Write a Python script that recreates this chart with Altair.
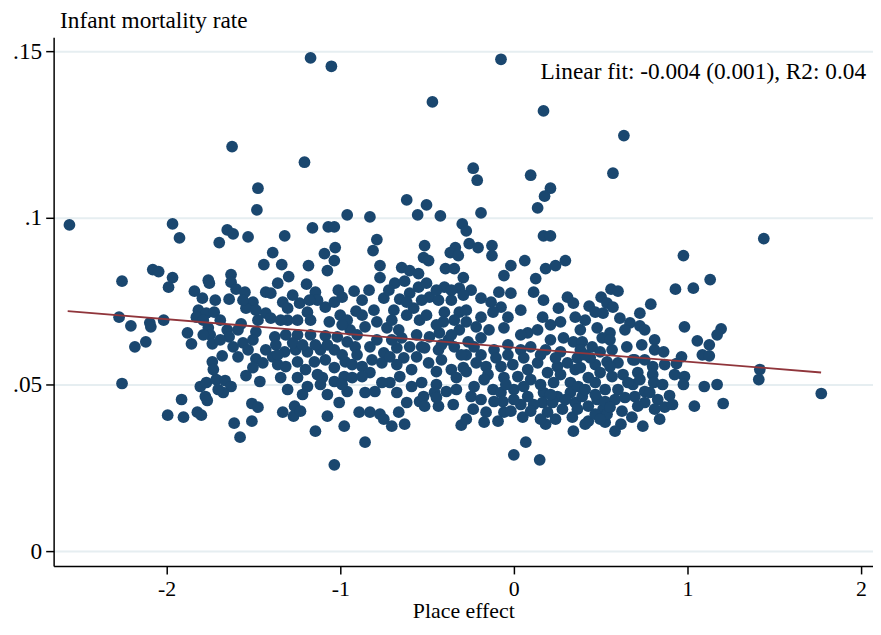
import altair as alt
import pandas as pd

# place effect (x) and infant mortality rate (y)
place_effect = [
    -1.171, -1.051, -0.074, -0.469, 0.171, 0.634, -1.623, -1.206, -0.234, -0.211,
    0.097, 0.571, -1.474, 0.211, 0.177, -1.480, -0.617, -0.503, 0.137, -0.960,
    -0.829, -0.554, -0.423, -0.189, -2.560, -1.966, -1.926, -1.651, -1.617, -1.697,
    -1.531, -1.320, -1.160, -1.069, -1.034, -1.029, -0.789, -0.811, -0.297, -0.274,
    0.171, 0.211, -0.257, -0.206, -0.126, -0.514, 1.440, 0.977, -1.389, -1.091,
    -0.337, -0.366, -2.257, -2.080, -2.046, -1.966, -1.989, -2.274, -2.206, -2.097,
    -2.091, -2.017, -2.183, -2.120, -1.880, -1.857, -2.257, -1.914, -1.994, -1.903,
    -1.823, -1.800, -1.840, -1.794, -1.760, -1.754, -1.720, -1.817, -1.771, -1.726,
    -1.829, -1.789, -1.760, -1.749, -1.737, -1.737, -1.680, -1.629, -1.629, -1.600,
    -1.549, -1.640, -1.503, -1.543, -1.440, -1.429, -1.429, -1.571, -1.651, -1.640,
    -1.589, -1.486, -1.617, -1.560, -1.503, -1.589, -1.486, -1.446, -1.429, -1.543,
    -1.463, -1.806, -1.771, -1.714, -1.663, -1.629, -1.777, -1.766, -1.674, -1.509,
    -1.474, -1.509, -1.611, -1.577, -1.034, -1.337, -1.183, -1.074, -0.771, -0.771,
    -0.646, -0.600, -0.549, -0.520, -1.360, -1.297, -1.194, -1.143, -1.011, -0.920,
    -0.686, -0.629, -0.549, -1.400, -1.331, -1.303, -1.234, -1.189, -1.171, -1.303,
    -1.400, -1.086, -1.034, -1.000, -1.063, -0.909, -0.806, -0.749, -0.657, -0.691,
    -0.600, -0.577, -0.543, -0.789, -0.857, -0.731, -0.663, -0.943, -1.377, -1.314,
    -1.246, -1.171, -1.086, -1.017, -0.960, -0.914, -0.829, -0.749, -0.674, -0.600,
    -0.531, -1.320, -1.257, -1.189, -1.114, -1.034, -1.389, -1.360, -1.314, -1.200,
    -1.149, -1.086, -1.034, -0.971, -0.931, -0.874, -0.829, -0.760, -0.714, -0.634,
    -0.560, -1.343, -1.189, -1.103, -1.114, -1.034, -0.977, -0.931, -0.874, -0.714,
    -0.657, -0.589, -0.531, -0.960, -1.006, -0.857, -0.800, -0.674, -0.617, -0.543,
    -1.331, -1.263, -1.269, -1.229, -1.074, -0.891, -0.829, -0.771, -0.749, -0.703,
    -0.663, -0.629, -0.977, -1.143, -0.857, -1.034, -0.491, -0.320, -0.126, -0.394,
    -0.343, -0.291, -0.017, 0.063, -0.057, 0.126, 0.183, 0.240, 0.297, -0.503,
    -0.400, -0.314, -0.246, -0.086, -0.017, 0.114, 0.171, 0.309, 0.343, -0.486,
    -0.434, -0.360, -0.291, -0.189, -0.131, -0.074, -0.120, -0.189, -0.503, -0.400,
    -0.314, -0.406, -0.343, -0.274, -0.034, 0.040, 0.166, 0.257, 0.354, -0.057,
    0.080, 0.137, 0.211, 0.269, -0.486, -0.429, -0.314, -0.217, -0.143, -0.189,
    -0.377, -0.263, 0.040, -0.034, 0.040, 0.097, 0.211, 0.286, 0.343, -0.514,
    -0.434, -0.343, -0.229, -0.114, 0.183, 0.269, -0.491, -0.417, -0.360, -0.291,
    -0.217, -0.160, -0.149, -0.074, -0.006, 0.023, 0.080, 0.137, 0.194, 0.251,
    0.309, 0.354, -0.057, 0.097, 0.229, 0.326, -0.446, -0.229, -0.520, -0.457,
    -0.331, -0.246, -0.120, -0.074, 0.000, 0.080, 0.171, 0.251, 0.326, 0.354,
    -0.514, -0.434, -0.349, -0.234, -0.160, -0.063, -0.057, 0.040, 0.166, 0.223,
    0.280, 0.194, 0.337, -0.091, 0.051, 0.183, 0.343, -0.303, 0.069, 0.000,
    0.149, 1.131, 0.931, 1.034, 0.560, 0.600, 0.503, 0.434, 0.537, 0.571,
    0.514, 0.789, 0.726, 0.669, 0.726, 0.983, 1.194, 1.171, 0.383, 0.480,
    0.554, 0.509, 0.394, 0.451, 0.566, 0.651, 0.737, 0.811, 0.863, 1.057,
    1.126, 1.086, 1.126, 0.966, 0.937, 0.366, 0.469, 0.600, 0.686, 0.754,
    0.800, 0.383, 0.429, 0.566, 0.629, 0.714, 0.800, 0.806, 0.983, 0.977,
    1.097, 1.171, 0.371, 0.469, 0.526, 0.600, 0.686, 0.754, 0.897, 0.829,
    0.394, 0.480, 0.583, 0.697, 0.754, 0.366, 0.429, 0.514, 0.623, 0.714,
    0.811, 0.869, 1.040, 1.206, 0.429, 0.526, 0.617, 0.680, 0.743,
    1.417, 1.411, 1.771,
    # dense core, centre
    -0.103, -0.034, 0.057, 0.154, 0.240, 0.383, 0.440, 0.497, 0.537, -0.189,
    -0.274, -0.171, -0.046, 0.057, 0.154, 0.269, 0.411, 0.469, 0.526, -0.189,
    -0.114, 0.000, 0.114, 0.211, 0.297, 0.469, 0.537, -0.171, -0.274, -0.017,
    0.097, 0.411, 0.240, 0.154,
    # dense core, left of centre
    -0.989, -0.874, -0.834, -0.720, -0.617, -0.531, -0.446, -0.360, -0.960, -0.874,
    -0.703, -0.617, -0.446, -0.360, -0.274, -0.989, -0.903, -0.817, -0.674, -0.589,
    -0.446, -0.331, -0.274, -0.703, -0.646, -0.560, -0.903, -0.789, -1.074, -0.417,
    -0.303, -0.760, -0.446, -0.389,
    # dense core, right
    0.411, 0.497, 0.554, 0.657, 0.726, 0.783, 0.857, 0.640, 0.554, 0.914,
    0.697, 0.811, 0.640, 0.554, 0.411, 0.469, 0.611, 0.754, 0.869, 0.926,
    0.497, 0.583, 0.840,
    # left clusters
    -1.371, -1.274, -1.217, -1.360, -1.246, -1.143, -1.131, -1.246, -1.303, -1.217,
    -1.074, -0.989, -1.131, -1.246, -1.274, -1.177, -1.343, -0.989,
    -1.691, -1.691, -1.531, -1.474, -1.789, -1.560, -1.486, -1.731, -1.503, -1.703,
]
infant_mortality = [
    0.1480, 0.1455, 0.1476, 0.1348, 0.1321, 0.1247, 0.1214, 0.1167, 0.1149, 0.1113,
    0.1128, 0.1134, 0.1089, 0.1089, 0.1065, 0.1024, 0.1054, 0.1039, 0.1030, 0.1009,
    0.1003, 0.1009, 0.1006, 0.1015, 0.0979, 0.0982, 0.0940, 0.0964, 0.0952, 0.0926,
    0.0943, 0.0946, 0.0970, 0.0973, 0.0973, 0.0911, 0.0935, 0.0902, 0.0982, 0.0961,
    0.0946, 0.0946, 0.0923, 0.0911, 0.0917, 0.0917, 0.0938, 0.0887, 0.0896, 0.0893,
    0.0911, 0.0896, 0.0810, 0.0845, 0.0839, 0.0821, 0.0792, 0.0702, 0.0676, 0.0685,
    0.0673, 0.0693, 0.0613, 0.0628, 0.0655, 0.0622, 0.0503, 0.0455, 0.0408, 0.0402,
    0.0417, 0.0408, 0.0780, 0.0759, 0.0813, 0.0804, 0.0753, 0.0723, 0.0714, 0.0717,
    0.0702, 0.0693, 0.0670, 0.0649, 0.0622, 0.0568, 0.0586, 0.0830, 0.0807, 0.0786,
    0.0777, 0.0756, 0.0747, 0.0729, 0.0860, 0.0777, 0.0714, 0.0682, 0.0664, 0.0643,
    0.0664, 0.0658, 0.0613, 0.0625, 0.0634, 0.0583, 0.0577, 0.0565, 0.0604, 0.0527,
    0.0509, 0.0494, 0.0506, 0.0515, 0.0512, 0.0494, 0.0464, 0.0452, 0.0476, 0.0443,
    0.0432, 0.0390, 0.0384, 0.0342, 0.0872, 0.0860, 0.0857, 0.0842, 0.0857, 0.0821,
    0.0851, 0.0842, 0.0833, 0.0881, 0.0804, 0.0824, 0.0801, 0.0777, 0.0783, 0.0780,
    0.0804, 0.0810, 0.0792, 0.0774, 0.0747, 0.0729, 0.0744, 0.0717, 0.0693, 0.0693,
    0.0699, 0.0732, 0.0747, 0.0708, 0.0688, 0.0720, 0.0723, 0.0759, 0.0756, 0.0723,
    0.0774, 0.0729, 0.0693, 0.0688, 0.0673, 0.0670, 0.0664, 0.0664, 0.0643, 0.0649,
    0.0649, 0.0649, 0.0646, 0.0643, 0.0628, 0.0613, 0.0613, 0.0595, 0.0610, 0.0613,
    0.0613, 0.0598, 0.0604, 0.0598, 0.0604, 0.0604, 0.0583, 0.0560, 0.0554, 0.0545,
    0.0568, 0.0574, 0.0551, 0.0568, 0.0560, 0.0554, 0.0536, 0.0565, 0.0583, 0.0580,
    0.0583, 0.0521, 0.0494, 0.0521, 0.0500, 0.0509, 0.0524, 0.0521, 0.0524, 0.0506,
    0.0524, 0.0494, 0.0506, 0.0479, 0.0446, 0.0476, 0.0479, 0.0476, 0.0446, 0.0449,
    0.0417, 0.0435, 0.0405, 0.0420, 0.0405, 0.0417, 0.0417, 0.0411, 0.0396, 0.0375,
    0.0417, 0.0381, 0.0375, 0.0360, 0.0327, 0.0259, 0.0872, 0.0887, 0.0887, 0.0848,
    0.0848, 0.0821, 0.0857, 0.0872, 0.0827, 0.0818, 0.0848, 0.0857, 0.0872, 0.0804,
    0.0792, 0.0789, 0.0783, 0.0777, 0.0774, 0.0777, 0.0753, 0.0762, 0.0744, 0.0762,
    0.0753, 0.0753, 0.0768, 0.0759, 0.0747, 0.0732, 0.0717, 0.0702, 0.0708, 0.0717,
    0.0717, 0.0688, 0.0693, 0.0688, 0.0702, 0.0723, 0.0702, 0.0729, 0.0702, 0.0670,
    0.0655, 0.0664, 0.0679, 0.0688, 0.0643, 0.0655, 0.0664, 0.0673, 0.0664, 0.0640,
    0.0634, 0.0628, 0.0649, 0.0619, 0.0604, 0.0613, 0.0634, 0.0640, 0.0628, 0.0610,
    0.0604, 0.0613, 0.0613, 0.0604, 0.0604, 0.0598, 0.0565, 0.0574, 0.0545, 0.0551,
    0.0565, 0.0554, 0.0530, 0.0554, 0.0560, 0.0524, 0.0545, 0.0565, 0.0536, 0.0554,
    0.0565, 0.0545, 0.0521, 0.0515, 0.0506, 0.0506, 0.0500, 0.0494, 0.0464, 0.0476,
    0.0485, 0.0464, 0.0485, 0.0476, 0.0485, 0.0464, 0.0476, 0.0464, 0.0476, 0.0446,
    0.0435, 0.0435, 0.0440, 0.0426, 0.0417, 0.0449, 0.0417, 0.0440, 0.0446, 0.0446,
    0.0426, 0.0417, 0.0402, 0.0390, 0.0402, 0.0381, 0.0360, 0.0378, 0.0327, 0.0289,
    0.0274, 0.0815, 0.0786, 0.0789, 0.0786, 0.0780, 0.0762, 0.0735, 0.0744, 0.0732,
    0.0714, 0.0741, 0.0714, 0.0685, 0.0676, 0.0673, 0.0667, 0.0649, 0.0664, 0.0670,
    0.0655, 0.0640, 0.0628, 0.0613, 0.0604, 0.0613, 0.0619, 0.0604, 0.0598, 0.0631,
    0.0619, 0.0589, 0.0586, 0.0583, 0.0563, 0.0580, 0.0560, 0.0565, 0.0574, 0.0574,
    0.0554, 0.0551, 0.0521, 0.0524, 0.0530, 0.0536, 0.0530, 0.0506, 0.0524, 0.0500,
    0.0494, 0.0500, 0.0494, 0.0506, 0.0485, 0.0485, 0.0500, 0.0479, 0.0467, 0.0455,
    0.0464, 0.0455, 0.0455, 0.0464, 0.0446, 0.0426, 0.0435, 0.0426, 0.0420, 0.0435,
    0.0426, 0.0432, 0.0435, 0.0443, 0.0390, 0.0387, 0.0381, 0.0402, 0.0375,
    0.0545, 0.0515, 0.0473,
    # dense core, centre
    0.0580, 0.0589, 0.0580, 0.0589, 0.0580, 0.0604, 0.0580, 0.0598, 0.0568, 0.0589,
    0.0589, 0.0515, 0.0500, 0.0494, 0.0500, 0.0530, 0.0485, 0.0470, 0.0449, 0.0455,
    0.0449, 0.0455, 0.0440, 0.0470, 0.0455, 0.0411, 0.0411, 0.0387, 0.0396, 0.0420,
    0.0420, 0.0381, 0.0396, 0.0396,
    # dense core, left of centre
    0.0762, 0.0753, 0.0783, 0.0783, 0.0747, 0.0753, 0.0783, 0.0783, 0.0693, 0.0708,
    0.0693, 0.0708, 0.0679, 0.0649, 0.0723, 0.0589, 0.0589, 0.0574, 0.0560, 0.0545,
    0.0539, 0.0521, 0.0539, 0.0634, 0.0640, 0.0649, 0.0649, 0.0634, 0.0619, 0.0619,
    0.0589, 0.0506, 0.0461, 0.0479,
    # dense core, right
    0.0589, 0.0536, 0.0554, 0.0506, 0.0515, 0.0476, 0.0500, 0.0461, 0.0432, 0.0440,
    0.0574, 0.0634, 0.0664, 0.0634, 0.0693, 0.0717, 0.0699, 0.0664, 0.0560, 0.0530,
    0.0396, 0.0360, 0.0396,
    # left clusters
    0.0619, 0.0625, 0.0619, 0.0589, 0.0568, 0.0619, 0.0530, 0.0521, 0.0485, 0.0470,
    0.0470, 0.0500, 0.0753, 0.0693, 0.0768, 0.0753, 0.0693, 0.0679,
    0.0693, 0.0634, 0.0604, 0.0693, 0.0649, 0.0753, 0.0723, 0.0545, 0.0551, 0.0485,
]

# fitted line end points
fit_x = [-2.57, 1.77]
fit_y = [0.0720, 0.0536]

x_ticks = [-2, -1, 0, 1, 2]
y_ticks = [0, 0.05, 0.1, 0.15]
fit_label = 'Linear fit: -0.004 (0.001), R2: 0.04'

points = pd.DataFrame({'place_effect': place_effect, 'imr': infant_mortality})
fit = pd.DataFrame({'place_effect': fit_x, 'imr': fit_y})

x_scale = alt.Scale(domain=[-2.651, 2.069], nice=False, zero=False)
y_scale = alt.Scale(domain=[-0.00446, 0.1542], nice=False, zero=False)

scatter = alt.Chart(points).mark_circle(size=140, color='#1a476f', opacity=1).encode(
    x=alt.X('place_effect:Q', scale=x_scale, title='Place effect',
            axis=alt.Axis(values=x_ticks, grid=False, labelExpr='toString(datum.value)',
                          labelFontSize=22, titleFontSize=22,
                          labelPadding=5, titlePadding=1)),
    y=alt.Y('imr:Q', scale=y_scale, title='Infant mortality rate',
            axis=alt.Axis(values=y_ticks, grid=True, gridColor='#e6eef1', gridWidth=2,
                          labelExpr="replace(format(datum.value, '~g'), '0.', '.')",
                          labelPadding=4, titleAngle=0, titleAlign='left',
                          titleBaseline='middle', titleX=6, titleY=-17))
)

line = alt.Chart(fit).mark_line(color='#90353b', strokeWidth=1.8).encode(
    x=alt.X('place_effect:Q', scale=x_scale),
    y=alt.Y('imr:Q', scale=y_scale)
)

note = alt.Chart(pd.DataFrame({'label': [fit_label]})).mark_text(
    align='right', baseline='middle', fontSize=23.5, font='Liberation Serif', color='black'
).encode(
    x=alt.value(819),
    y=alt.value(35),
    text='label:N'
)

chart = (scatter + line + note).properties(
    width=826,
    height=533,
    autosize=alt.AutoSizeParams(type='none'),
    padding={'left': 46, 'top': 27, 'right': 0, 'bottom': 59},
    background='white'
).configure_view(
    strokeWidth=0
).configure_axis(
    labelFont='Liberation Serif',
    titleFont='Liberation Serif',
    labelFontSize=23.5,
    titleFontSize=23.5,
    titleFontWeight='normal',
    labelColor='black',
    titleColor='black',
    domainColor='black',
    domainWidth=1.5,
    tickColor='black',
    tickWidth=1.5,
    tickSize=8
)

chart.save('out.html', embed_options={'renderer': 'svg', 'actions': False})
